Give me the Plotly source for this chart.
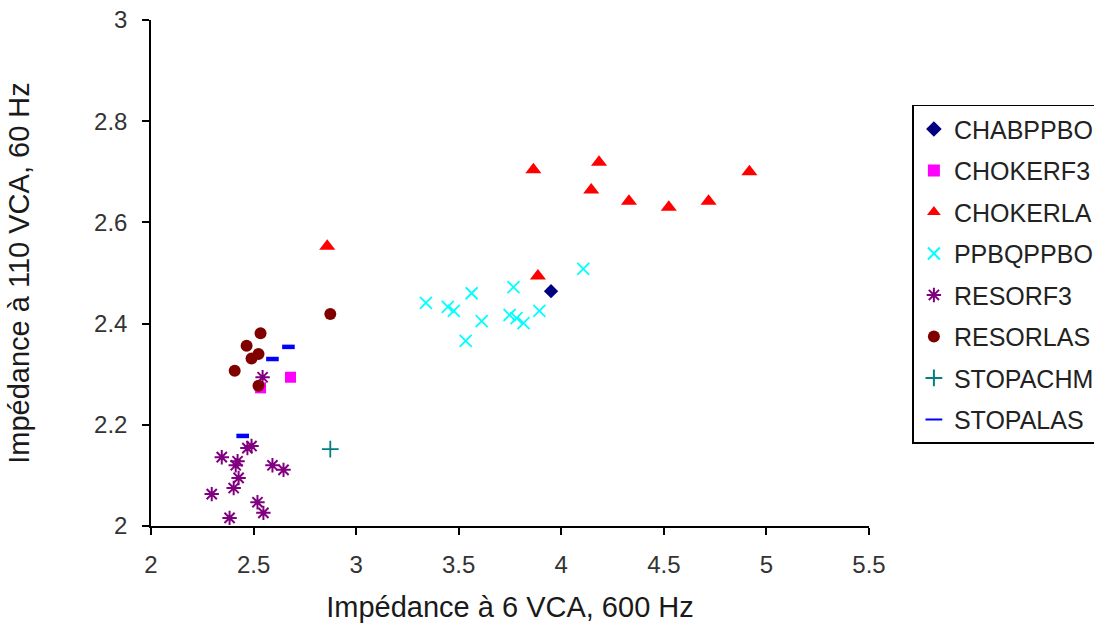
import plotly.graph_objects as go

# Impedance measurements per component type
chabppbo_x = [3.95]
chabppbo_y = [2.464]

chokerf3_x = [2.68, 2.534]
chokerf3_y = [2.294, 2.273]

chokerla_x = [2.859, 3.864, 3.886, 4.146, 4.184, 4.33, 4.524, 4.718, 4.917]
chokerla_y = [2.553, 2.704, 2.494, 2.664, 2.719, 2.642, 2.630, 2.642, 2.700]

ppbqppbo_x = [3.34, 3.447, 3.476, 3.563, 3.612, 3.534, 3.767, 3.748, 3.782, 3.816, 3.893, 4.107]
ppbqppbo_y = [2.441, 2.433, 2.425, 2.460, 2.405, 2.366, 2.472, 2.417, 2.411, 2.401, 2.425, 2.508]

resorf3_x = [2.544, 2.47, 2.49, 2.345, 2.422, 2.413, 2.592, 2.646, 2.427, 2.403, 2.296, 2.519, 2.548, 2.383]
resorf3_y = [2.294, 2.154, 2.158, 2.136, 2.128, 2.120, 2.120, 2.111, 2.095, 2.075, 2.063, 2.047, 2.026, 2.016]

resorlas_x = [2.534, 2.466, 2.524, 2.490, 2.408, 2.524, 2.874]
resorlas_y = [2.381, 2.356, 2.340, 2.331, 2.307, 2.277, 2.419]

stopachm_x = [2.874]
stopachm_y = [2.152]

stopalas_x = [2.670, 2.592, 2.447]
stopalas_y = [2.354, 2.330, 2.178]

series = [
    ("CHABPPBO", chabppbo_x, chabppbo_y, dict(symbol="diamond", size=11, color="#000080")),
    ("CHOKERF3", chokerf3_x, chokerf3_y, dict(symbol="square", size=11, color="#FF00FF")),
    ("CHOKERLA", chokerla_x, chokerla_y, dict(symbol="triangle-up", size=14, color="#FF0000")),
    ("PPBQPPBO", ppbqppbo_x, ppbqppbo_y,
     dict(symbol="x-thin-open", size=12, color="#00FFFF", line=dict(color="#00FFFF", width=1.8))),
    ("RESORF3", resorf3_x, resorf3_y,
     dict(symbol="asterisk-open", size=12, color="#800080", line=dict(color="#800080", width=2))),
    ("RESORLAS", resorlas_x, resorlas_y, dict(symbol="circle", size=12, color="#800000")),
    ("STOPACHM", stopachm_x, stopachm_y,
     dict(symbol="cross-thin-open", size=12, color="#008080", line=dict(color="#008080", width=1.8))),
    ("STOPALAS", stopalas_x, stopalas_y,
     dict(symbol="line-ew-open", size=9, color="#0000FF", line=dict(color="#0000FF", width=4.5))),
]

fig = go.Figure()
for name, xs, ys, marker in series:
    fig.add_trace(go.Scatter(x=xs, y=ys, mode="markers", name=name,
                             legendgroup=name, marker=marker))

tick_font = dict(family="Liberation Sans, Arial, sans-serif", size=24, color="#333333")
title_font = dict(family="Liberation Sans, Arial, sans-serif", size=29, color="#1a1a1a")

fig.update_layout(
    width=1094, height=627,
    paper_bgcolor="white", plot_bgcolor="white",
    margin=dict(l=151, r=225, t=20, b=101, autoexpand=False),
    font=dict(family="Liberation Sans, Arial, sans-serif", color="#222222"),
    xaxis=dict(
        range=[2, 5.5], dtick=0.5, showgrid=False, zeroline=False,
        showline=True, linecolor="black", linewidth=1.5,
        ticks="outside", ticklen=7, tickwidth=1.5, tickcolor="black",
        ticklabelstandoff=9, tickfont=tick_font, automargin=False,
        title=dict(text="Impédance à 6 VCA, 600 Hz", font=title_font, standoff=20),
    ),
    yaxis=dict(
        range=[2, 3], dtick=0.2, showgrid=False, zeroline=False,
        showline=True, linecolor="black", linewidth=1.5,
        ticks="outside", ticklen=7, tickwidth=1.5, tickcolor="black",
        ticklabelstandoff=10, tickfont=tick_font, automargin=False,
        title=dict(text="Impédance à 110 VCA, 60 Hz", font=title_font, standoff=56),
    ),
    legend=dict(
        xref="container", yref="container",
        x=0.834, y=0.833, xanchor="left", yanchor="top",
        bordercolor="black", borderwidth=1.5, bgcolor="white",
        font=dict(size=25, color="#222222"),
        tracegroupgap=6, itemsizing="constant", maxheight=420,
    ),
    showlegend=True,
)

fig.write_html("out.html")
